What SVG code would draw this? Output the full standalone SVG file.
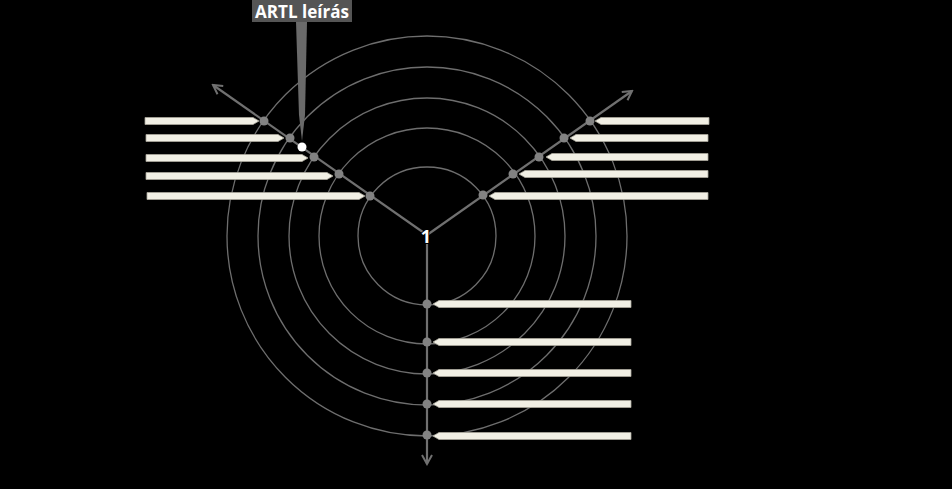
<svg xmlns="http://www.w3.org/2000/svg" width="952" height="489" viewBox="0 0 952 489">
<style>
.ring{fill:none;stroke:#6e6e6e;stroke-width:1.3}
.axis{stroke:#707070;stroke-width:2.2;fill:none}
.dot{fill:#828282}
.bar{fill:#f1efe4;stroke:#a9a79c;stroke-width:0.8}
.lbl{font-family:"Open Sans","Liberation Sans",sans-serif;font-weight:bold;fill:#ffffff}
</style>
<defs>
<marker id="arr" viewBox="0 0 12 12" refX="10" refY="6" markerWidth="12" markerHeight="12" markerUnits="userSpaceOnUse" orient="auto">
<path d="M1,1 L10,6 L1,11" fill="none" stroke="#707070" stroke-width="2"/>
</marker>
</defs>
<rect width="952" height="489" fill="#000000"/>
<g id="rings">
<circle class="ring" cx="427" cy="236" r="69"/>
<circle class="ring" cx="427" cy="236" r="108"/>
<circle class="ring" cx="427" cy="236" r="138"/>
<circle class="ring" cx="427" cy="236" r="169"/>
<circle class="ring" cx="427" cy="236" r="200"/>
</g>
<g id="connectors">
<line class="axis" x1="427" y1="235" x2="213" y2="85" marker-end="url(#arr)"/>
<line class="axis" x1="427" y1="235" x2="632" y2="91" marker-end="url(#arr)"/>
<line class="axis" x1="427" y1="235" x2="427" y2="464" marker-end="url(#arr)"/>
</g>
<g id="left-bars">
<polygon class="bar" points="145,117.5 253,117.5 259,121 253,124.5 145,124.5"/>
<polygon class="bar" points="146,134.5 278,134.5 284,138 278,141.5 146,141.5"/>
<polygon class="bar" points="146,154.5 302,154.5 308,158 302,161.5 146,161.5"/>
<polygon class="bar" points="146,172.5 327,172.5 333,176 327,179.5 146,179.5"/>
<polygon class="bar" points="147,192.5 359,192.5 365,196 359,199.5 147,199.5"/>
</g>
<g id="right-bars">
<polygon class="bar" points="709,117.5 601,117.5 595,121 601,124.5 709,124.5"/>
<polygon class="bar" points="708,134.5 576,134.5 570,138 576,141.5 708,141.5"/>
<polygon class="bar" points="708,153.5 552,153.5 546,157 552,160.5 708,160.5"/>
<polygon class="bar" points="708,170.5 525,170.5 519,174 525,177.5 708,177.5"/>
<polygon class="bar" points="708,192.5 495,192.5 489,196 495,199.5 708,199.5"/>
</g>
<g id="bottom-bars">
<polygon class="bar" points="631,300.5 439,300.5 433,304 439,307.5 631,307.5"/>
<polygon class="bar" points="631,338.5 439,338.5 433,342 439,345.5 631,345.5"/>
<polygon class="bar" points="631,369.5 439,369.5 433,373 439,376.5 631,376.5"/>
<polygon class="bar" points="631,400.5 439,400.5 433,404 439,407.5 631,407.5"/>
<polygon class="bar" points="631,432.5 439,432.5 433,436 439,439.5 631,439.5"/>
</g>
<g id="dots">
<circle class="dot" cx="264" cy="121" r="4.5"/>
<circle class="dot" cx="290" cy="138" r="4.5"/>
<circle class="dot" cx="314" cy="157" r="4.5"/>
<circle class="dot" cx="339" cy="174" r="4.5"/>
<circle class="dot" cx="370" cy="196" r="4.5"/>
<circle class="dot" cx="483" cy="195" r="4.5"/>
<circle class="dot" cx="513" cy="174" r="4.5"/>
<circle class="dot" cx="539" cy="157" r="4.5"/>
<circle class="dot" cx="564" cy="138" r="4.5"/>
<circle class="dot" cx="590" cy="121" r="4.5"/>
<circle class="dot" cx="427" cy="304" r="4.5"/>
<circle class="dot" cx="427" cy="342" r="4.5"/>
<circle class="dot" cx="427" cy="373" r="4.5"/>
<circle class="dot" cx="427" cy="404" r="4.5"/>
<circle class="dot" cx="427" cy="435" r="4.5"/>
</g>
<g id="center-label">
<text class="lbl" x="426" y="243" font-size="18" text-anchor="middle" stroke="#000" stroke-width="2" paint-order="stroke">1</text>
</g>
<g id="artl">
<polygon points="296,22 307,22 305,115 302,141 299,115" fill="#6a6a6a"/>
<circle cx="302" cy="147" r="4.5" fill="#ffffff"/>
<rect x="252" y="0" width="100" height="22" fill="#555555"/>
<text class="lbl" x="302" y="18" font-size="18" text-anchor="middle" textLength="94" lengthAdjust="spacingAndGlyphs">ARTL leírás</text>
</g>
</svg>
